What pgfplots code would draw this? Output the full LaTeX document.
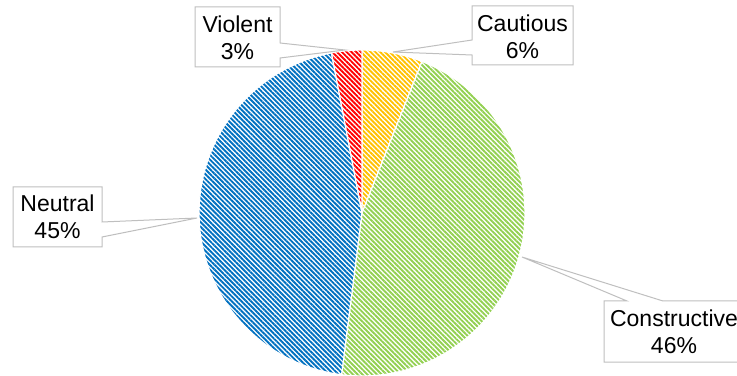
\documentclass[border=0pt]{standalone}
\usepackage{fontspec}
\setmainfont{Liberation Sans}
\usepackage{pgfplots}
\pgfplotsset{compat=1.18}
\usetikzlibrary{patterns.meta}
\definecolor{cYel}{HTML}{FFC000}
\definecolor{cGrn}{HTML}{92D050}
\definecolor{cBlu}{HTML}{0070C0}
\definecolor{cRed}{HTML}{FF0000}
\definecolor{cBox}{HTML}{BFBFBF}
% values (percent), clockwise from 12 o'clock
\def\vCautious{6}
\def\vConstructive{46}
\def\vNeutral{45}
\def\vViolent{3}
\begin{document}
\begin{tikzpicture}
\pgfmathsetmacro{\aA}{90}
\pgfmathsetmacro{\aB}{\aA-3.6*\vCautious}
\pgfmathsetmacro{\aC}{\aB-3.6*\vConstructive}
\pgfmathsetmacro{\aD}{\aC-3.6*\vNeutral}
\pgfmathsetmacro{\aE}{\aD-3.6*\vViolent}
\def\cx{362}\def\cy{163}\def\rr{163}
\tikzset{hatch/.style={pattern={Lines[angle=-45,distance=3.4pt,line width=1.9pt]}}}
\begin{axis}[width=737bp, height=376bp, scale only axis,
  xmin=0, xmax=737, ymin=0, ymax=376, hide axis, clip=false,
  every axis plot/.append style={draw=white, line width=1.2bp, samples=80, variable=\t, no markers}]
\coordinate (bl) at (axis cs:0,0);
\coordinate (tr) at (axis cs:737,376);
\addplot[hatch, pattern color=cYel, domain=\aB:\aA]
  ({\cx+\rr*cos(t)},{\cy+\rr*sin(t)}) -- (axis cs:\cx,\cy) -- cycle;
\addplot[hatch, pattern color=cGrn, domain=\aC:\aB]
  ({\cx+\rr*cos(t)},{\cy+\rr*sin(t)}) -- (axis cs:\cx,\cy) -- cycle;
\addplot[hatch, pattern color=cBlu, domain=\aD:\aC]
  ({\cx+\rr*cos(t)},{\cy+\rr*sin(t)}) -- (axis cs:\cx,\cy) -- cycle;
\addplot[hatch, pattern color=cRed, domain=\aE:\aD]
  ({\cx+\rr*cos(t)},{\cy+\rr*sin(t)}) -- (axis cs:\cx,\cy) -- cycle;
% callouts
\tikzset{co/.style={draw=cBox, fill=white, line width=1bp, line join=miter}}
\filldraw[co] (axis cs:195,369) -- (axis cs:280,369) -- (axis cs:280,333) -- (axis cs:345,326) -- (axis cs:280,318) -- (axis cs:280,309) -- (axis cs:195,309) -- cycle;
\filldraw[co] (axis cs:472,370) -- (axis cs:573,370) -- (axis cs:573,311) -- (axis cs:472,311) -- (axis cs:472,321) -- (axis cs:393,324) -- (axis cs:472,336) -- cycle;
\filldraw[co] (axis cs:13,189) -- (axis cs:102,189) -- (axis cs:102,154) -- (axis cs:197,158) -- (axis cs:102,139) -- (axis cs:102,129) -- (axis cs:13,129) -- cycle;
\filldraw[co] (axis cs:604,75) -- (axis cs:627,75) -- (axis cs:522,119) -- (axis cs:663,75) -- (axis cs:746,75) -- (axis cs:746,14) -- (axis cs:604,14) -- cycle;
\tikzset{lb/.style={align=center, inner sep=0pt, font=\fontsize{23bp}{27bp}\selectfont}}
\node[lb] at (axis cs:237.5,338.5) {Violent\\3\%};
\node[lb] at (axis cs:522.5,339.5) {Cautious\\6\%};
\node[lb] at (axis cs:57.5,159.5) {Neutral\\45\%};
\node[lb] at (axis cs:674,44.5) {Constructive\\46\%};
\end{axis}
\pgfresetboundingbox
\useasboundingbox (bl) rectangle (tr);
\end{tikzpicture}
\end{document}
